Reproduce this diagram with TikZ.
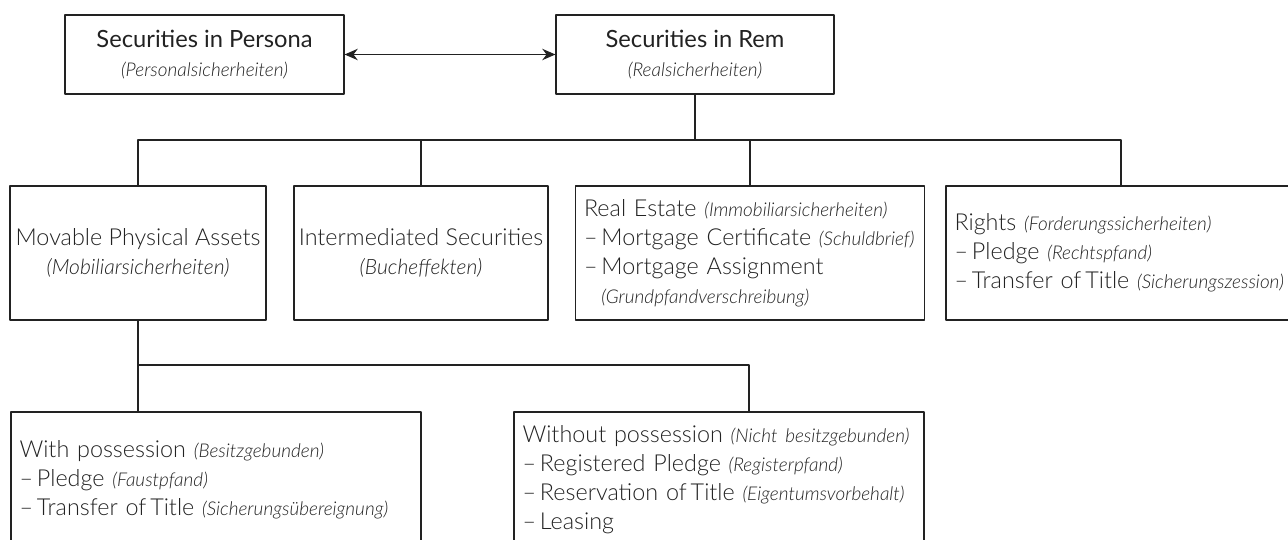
\documentclass[tikz,border=0pt]{standalone}
\usepackage{fontspec}
\usetikzlibrary{arrows.meta}
\setmainfont{Lato}[UprightFont=* Light, ItalicFont=* Light Italic]
\newfontfamily\headfont{Lato}
\definecolor{ink}{HTML}{222222}
\newcommand{\ger}[1]{{\normalfont\fontsize{10.8}{12}\selectfont\itshape(#1)}}
\begin{document}
\begin{tikzpicture}[x=0.02cm, y=-0.02cm, line join=round, >={Stealth[length=7.5pt,width=6.5pt]}, color=ink,
	font=\fontsize{13.3}{16.5}\selectfont,
	box/.style 2 args={draw, line width=0.7pt, minimum width=#1cm, minimum height=#2cm, inner sep=0pt, align=center},
	lbox/.style 2 args={draw, line width=0.7pt, text width=#1cm, minimum height=#2cm, inner xsep=0.12cm, inner ysep=0pt, align=left,
		execute at begin node={\hyphenpenalty=10000\exhyphenpenalty=10000}},
	link/.style={line width=0.7pt}]
	\useasboundingbox (0,0) rectangle (1288,540);
	\clip (0,0) rectangle (1288,540);
	% top row
	\node[box={5.58}{1.58}] (persona) at (204.5,54.5) {{\headfont\fontsize{13.5}{14}\selectfont Securities in Persona}\\ \ger{Personalsicherheiten}};
	\node[box={5.56}{1.58}] (rem) at (695,54.5) {{\headfont\fontsize{13.5}{14}\selectfont Securities in Rem}\\ \ger{Realsicherheiten}};
	% second row
	\node[box={5.12}{2.68}] (movable) at (138,253) {Movable Physical Assets\\ {\fontsize{12}{14}\selectfont\itshape(Mobiliarsicherheiten)}};
	\node[box={5.08}{2.68}] (interm) at (421,253) {Intermediated Securities\\ {\fontsize{12}{14}\selectfont\itshape(Bucheffekten)}};
	\node[lbox={6.74}{2.68}] (realestate) at (750,253) {\hspace*{0.05cm}Real Estate \ger{Immobiliarsicherheiten}\\
		\hspace*{0.05cm}–\,Mortgage Certificate \ger{Schuldbrief}\\
		\hspace*{0.05cm}–\,Mortgage Assignment\\
		\hspace*{0.05cm}\phantom{–\,}\ger{Grundpfandverschreibung}};
	\node[lbox={6.76}{2.68}] (rights) at (1121,253) {\hspace*{0.05cm}Rights \ger{Forderungssicherheiten}\\
		\hspace*{0.05cm}–\,Pledge \ger{Rechtspfand}\\
		\hspace*{0.05cm}–\,Transfer of\,Title \ger{Sicherungszession}};
	% third row
	\node[lbox={7.96}{2.72}] (withposs) at (216,480) {\hspace*{0.05cm}With possession \ger{Besitzgebunden}\\
		\hspace*{0.05cm}–\,Pledge \ger{Faustpfand}\\
		\hspace*{0.05cm}–\,Transfer of\,Title \ger{Sicherungsübereignung}};
	\node[lbox={7.96}{2.72}] (withoutposs) at (719,480) {\hspace*{0.05cm}Without possession \ger{Nicht besitzgebunden}\\
		\hspace*{0.05cm}–\,Registered Pledge \ger{Registerpfand}\\
		\hspace*{0.05cm}–\,Reservation of\,Title \ger{Eigentumsvorbehalt}\\
		\hspace*{0.05cm}–\,Leasing};
	% connectors
	\coordinate (bus) at (0,140);
	\coordinate (bus2) at (749,365);
	\draw[link,<->] (persona) -- (rem);
	\draw[link] (rem.south) -- (rem.south |- bus);
	\draw[link] (movable.north) -- (movable.north |- bus) -- (rights.north |- bus) -- (rights.north);
	\draw[link] (interm.north) -- (interm.north |- bus);
	\draw[link] (realestate.north) -- (realestate.north |- bus);
	\draw[link] (movable.south) -- (movable.south |- withposs.north);
	\draw[link] (movable.south |- bus2) -- (bus2) -- (bus2 |- withoutposs.north);
\end{tikzpicture}
\end{document}
